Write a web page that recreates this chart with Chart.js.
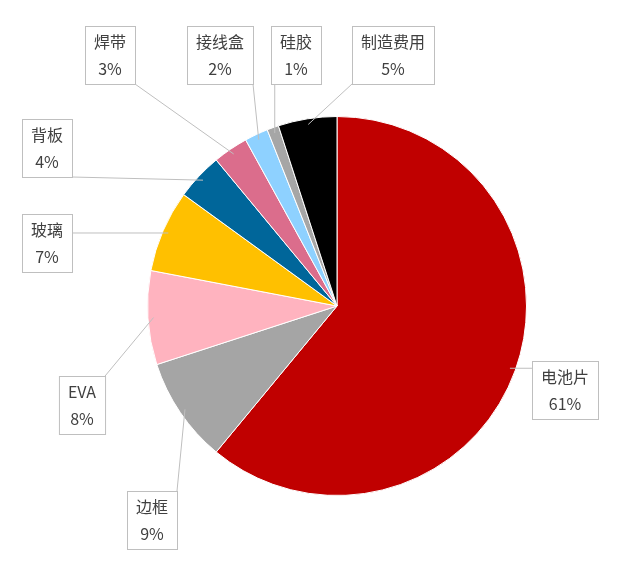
<!DOCTYPE html>
<html><head><meta charset="utf-8">
<script src="https://cdn.jsdelivr.net/npm/chart.js@4"></script>
<style>html,body{margin:0;padding:0;background:#fff}#w{width:629px;height:578px}</style>
</head><body><div id="w"><canvas id="c"></canvas></div>
<script>
const categories = ['电池片','边框','EVA','玻璃','背板','焊带','接线盒','硅胶','制造费用'];
const values = [61, 9, 8, 7, 4, 3, 2, 1, 5];
const colors = ['#C00000','#A5A5A5','#FFB3BF','#FFC000','#00669A','#DB6D8C','#8ED1FF','#A6A6A6','#000000'];
// label box centres (layout only)
const labelPos = [[565,390],[152,520],[82,405],[47,243],[47,148],[110,55],[220,55],[296,55],[393,55]];

const labelPlugin = {
  id:'lbl',
  afterDraw(chart){
    const ctx = chart.ctx, meta = chart.getDatasetMeta(0);
    ctx.save();
    ctx.font = '16px "Noto Sans CJK SC", "Noto Sans", sans-serif';
    meta.data.forEach((arc,i)=>{
      const p = arc.getProps(['x','y','startAngle','endAngle','outerRadius'],true);
      const a = (p.startAngle+p.endAngle)/2;
      const ex = p.x+Math.cos(a)*p.outerRadius*0.97, ey = p.y+Math.sin(a)*p.outerRadius*0.97;
      const [cx,cy] = labelPos[i];
      const t1 = categories[i], t2 = values[i]+'%';
      const w = Math.max(ctx.measureText(t1).width, ctx.measureText(t2).width)+18, h = 58;
      const bx = cx-w/2, by = cy-h/2;
      // leader anchor on box edge
      let lx = Math.min(Math.max(ex,bx),bx+w), ly = Math.min(Math.max(ey,by),by+h);
      if (ex>bx && ex<bx+w && ey>by && ey<by+h){lx=cx;ly=cy;}
      ctx.strokeStyle='#BFBFBF'; ctx.lineWidth=1;
      ctx.beginPath(); ctx.moveTo(lx,ly); ctx.lineTo(ex,ey); ctx.stroke();
      ctx.fillStyle='#fff'; ctx.fillRect(bx,by,w,h);
      ctx.strokeRect(bx+0.5,by+0.5,w,h);
      ctx.fillStyle='#404040'; ctx.textAlign='center'; ctx.textBaseline='middle';
      ctx.fillText(t1,cx,cy-13); ctx.fillText(t2,cx,cy+14);
    });
    ctx.restore();
  }
};

new Chart(document.getElementById('c'),{
  type:'pie',
  data:{labels:categories,datasets:[{data:values,backgroundColor:colors,borderColor:'#fff',borderWidth:1}]},
  options:{responsive:true,maintainAspectRatio:false,animation:false,
    layout:{padding:{left:147,right:102,top:116,bottom:82}},
    plugins:{legend:{display:false},tooltip:{enabled:false}}},
  plugins:[labelPlugin]
});
</script></body></html>
